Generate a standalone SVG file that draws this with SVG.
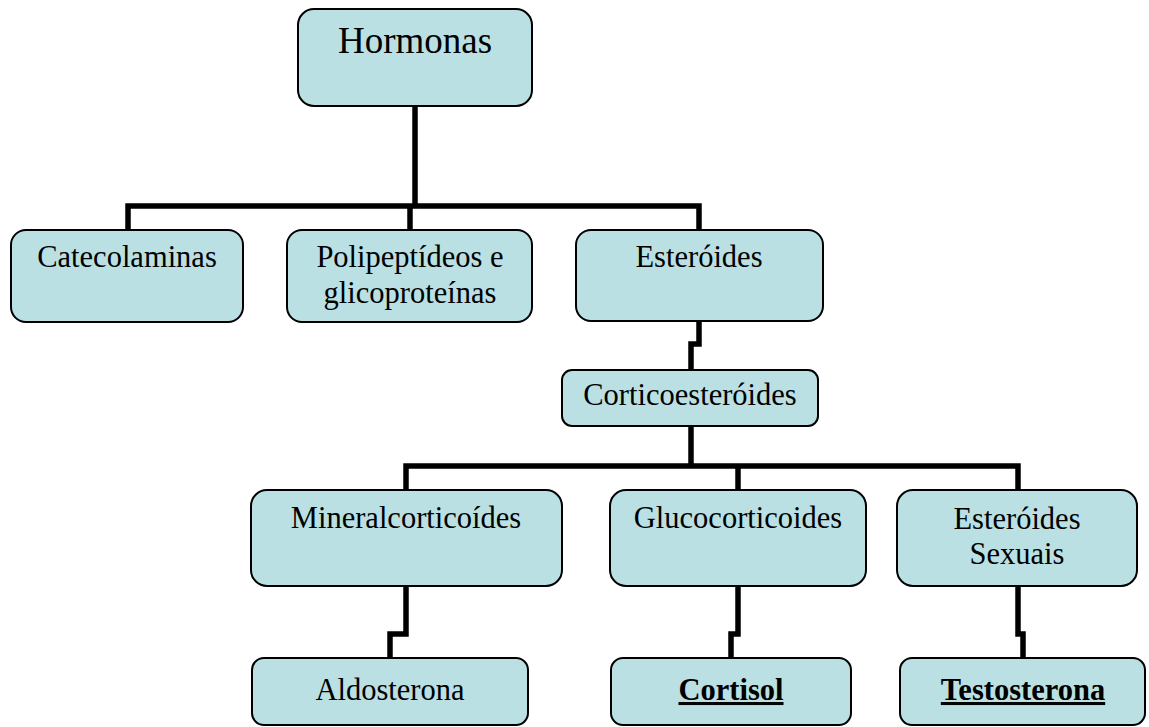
<svg xmlns="http://www.w3.org/2000/svg" width="1149" height="727" viewBox="0 0 1149 727">
<style>
.box{fill:#BAE0E3;stroke:#000;stroke-width:2}
.t{font-family:"Liberation Serif","Times New Roman",serif;font-size:30.5px;fill:#000;text-anchor:middle}
.b{font-weight:bold;text-decoration:underline}
.c{fill:none;stroke:#000;stroke-width:5.5;stroke-linejoin:miter;stroke-linecap:butt}
</style>
<rect width="1149" height="727" fill="#fff"/>
<g id="connectors">
<path class="c" d="M415,106 V206"/>
<path class="c" d="M128,230 V206 H699 V230"/>
<path class="c" d="M410,206 V230"/>
<path class="c" d="M699,321 V344 H691 V370"/>
<path class="c" d="M691,426 V466"/>
<path class="c" d="M406,490 V466 H1018 V490"/>
<path class="c" d="M738,466 V490"/>
<path class="c" d="M406,586 V634 H390 V658"/>
<path class="c" d="M738,586 V634 H731 V658"/>
<path class="c" d="M1018,586 V634 H1023 V658"/>
</g>
<g id="hormonas"><rect class="box" x="298" y="9" width="234" height="97" rx="16"/><text class="t" x="415" y="53" style="font-size:37px">Hormonas</text></g>
<g id="catecolaminas"><rect class="box" x="11" y="230" width="232" height="92" rx="15"/><text class="t" x="127" y="267">Catecolaminas</text></g>
<g id="polipeptideos"><rect class="box" x="287" y="230" width="245" height="92" rx="15"/><text class="t" x="410" y="267">Polipeptídeos e</text><text class="t" x="410" y="303">glicoproteínas</text></g>
<g id="esteroides"><rect class="box" x="576" y="230" width="247" height="91" rx="15"/><text class="t" x="699" y="267">Esteróides</text></g>
<g id="corticoesteroides"><rect class="box" x="562" y="370" width="256" height="56" rx="10"/><text class="t" x="690" y="405">Corticoesteróides</text></g>
<g id="mineralcorticoides"><rect class="box" x="251" y="490" width="311" height="96" rx="16"/><text class="t" x="406" y="528">Mineralcorticoídes</text></g>
<g id="glucocorticoides"><rect class="box" x="610" y="490" width="256" height="96" rx="16"/><text class="t" x="738" y="528">Glucocorticoides</text></g>
<g id="esteroides-sexuais"><rect class="box" x="897" y="490" width="240" height="96" rx="16"/><text class="t" x="1017" y="529">Esteróides</text><text class="t" x="1017" y="564">Sexuais</text></g>
<g id="aldosterona"><rect class="box" x="252" y="658" width="276" height="67" rx="12"/><text class="t" x="390" y="700">Aldosterona</text></g>
<g id="cortisol"><rect class="box" x="611" y="658" width="240" height="67" rx="12"/><text class="t b" x="731" y="700">Cortisol</text></g>
<g id="testosterona"><rect class="box" x="900" y="658" width="245" height="67" rx="12"/><text class="t b" x="1023" y="700">Testosterona</text></g>
</svg>
